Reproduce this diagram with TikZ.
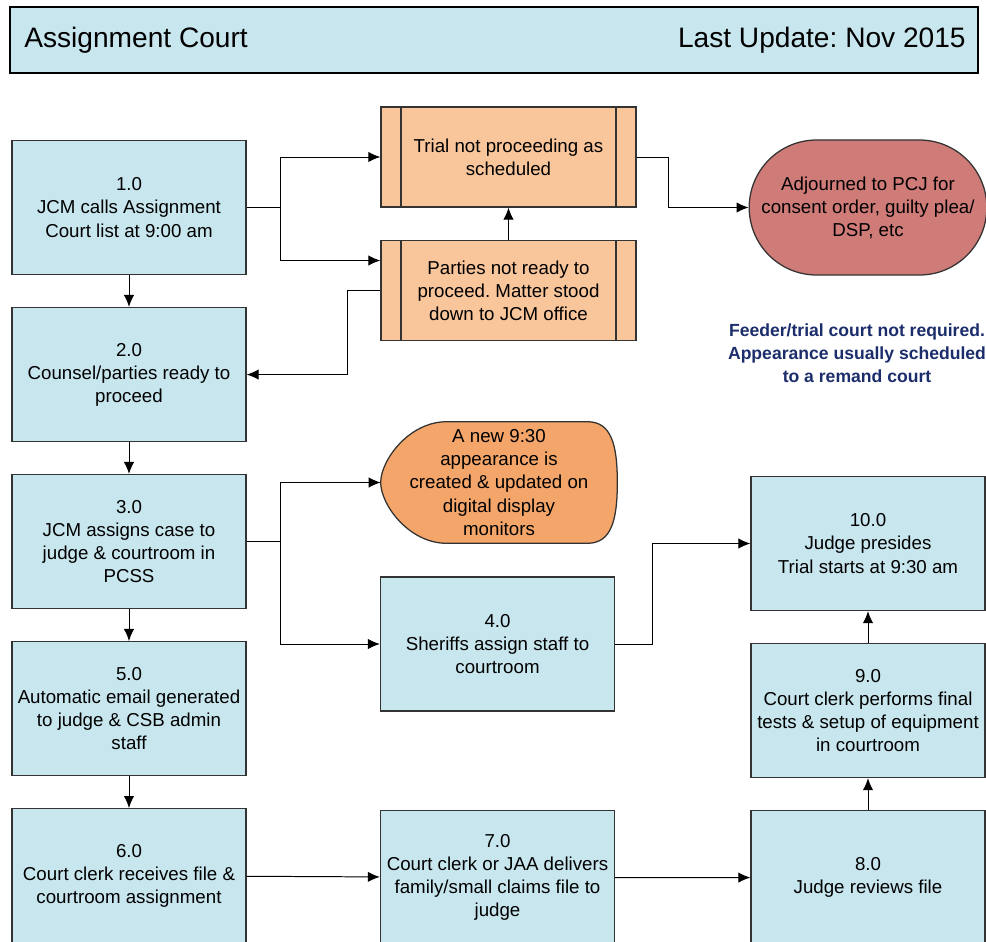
\documentclass[tikz,border=0pt]{standalone}
\usepackage{fontspec}
\setmainfont{Liberation Sans}
\usetikzlibrary{arrows.meta, shapes.misc, backgrounds}
\frenchspacing

\definecolor{boxblue}{RGB}{200,230,238}
\definecolor{peach}{RGB}{249,197,155}
\definecolor{dispor}{RGB}{244,166,106}
\definecolor{termred}{RGB}{207,123,120}
\definecolor{noteblue}{RGB}{27,45,107}
\definecolor{linegray}{RGB}{51,51,51}

\begin{document}
\begin{tikzpicture}[
  x=0.025cm, y=0.025cm,
  node distance=4.175cm,
  every node/.style={font=\fontsize{13.3}{16.4}\selectfont, align=center},
  stepbox/.style={rectangle, draw=linegray, line width=0.9pt, fill=boxblue, minimum width=5.85cm, minimum height=3.35cm},
  procbox/.style={rectangle, draw=linegray, line width=0.9pt, fill=peach, minimum width=6.375cm, minimum height=2.5cm,
    path picture={
      \draw[linegray, line width=0.9pt] ([xshift=0.5cm]path picture bounding box.north west) -- ([xshift=0.5cm]path picture bounding box.south west);
      \draw[linegray, line width=0.9pt] ([xshift=-0.5cm]path picture bounding box.north east) -- ([xshift=-0.5cm]path picture bounding box.south east);
    }},
  termbox/.style={rounded rectangle, draw=linegray, line width=0.9pt, fill=termred, minimum width=5.85cm, minimum height=3.375cm},
  dispbox/.style={minimum width=5.9cm, minimum height=3.025cm},
  note/.style={text=noteblue, font=\bfseries\fontsize{12.5}{16.4}\selectfont},
  arrow/.style={line width=0.7pt, -{Latex[length=3mm,width=2.6mm]}}
]
  \useasboundingbox (0,0) rectangle (986,-941);

  % header
  \node[draw=black, line width=1.2pt, fill=boxblue, minimum width=24.2cm, minimum height=1.65cm] (head) at (494,-40) {};
  \node[anchor=west, inner sep=0pt, font=\fontsize{20}{24}\selectfont] (title) at ([xshift=0.375cm]head.west) {Assignment Court};
  \node[anchor=east, inner sep=0pt, font=\fontsize{20}{24}\selectfont] (updated) at ([xshift=-0.325cm]head.east) {Last Update: Nov 2015};

  % left column
  \node[stepbox] (h1) at (129,-207.5) {1.0\\JCM calls Assignment\\Court list at 9:00 am};
  \node[stepbox] (h2) [below of=h1] {2.0\\Counsel/parties ready to\\proceed};
  \node[stepbox] (h3) [below of=h2] {3.0\\JCM assigns case to\\judge \& courtroom in\\PCSS};
  \node[stepbox] (h5) [below of=h3] {5.0\\Automatic email generated\\to judge \& CSB admin\\staff};
  \node[stepbox] (h6) [below of=h5] {6.0\\Court clerk receives file \&\\courtroom assignment};

  % middle column
  \node[procbox] (trial) at (508.5,-157) {Trial not proceeding as\\scheduled};
  \node[procbox] (parties) at (508.5,-290.5) {Parties not ready to\\proceed. Matter stood\\down to JCM office};
  \node[dispbox] (disp) at (499,-482.5) {A new 9:30\\appearance is\\created \& updated on\\digital display\\monitors};
  \node[stepbox] (h4) at (497.5,-644) {4.0\\Sheriffs assign staff to\\courtroom};
  \node[stepbox] (h7) at (497.5,-877.5) {7.0\\Court clerk or JAA delivers\\family/small claims file to\\judge};

  % right column
  \node[termbox] (adj) at (868,-207.5) {Adjourned to PCJ for\\consent order, guilty plea/\\DSP, etc};
  \node[note] (feeder) at (857,-353) {Feeder/trial court not required.\\Appearance usually scheduled\\to a remand court};
  \node[stepbox] (h10) at (868,-543.5) {10.0\\Judge presides\\Trial starts at 9:30 am};
  \node[stepbox] (h9) [below of=h10] {9.0\\Court clerk performs final\\tests \& setup of equipment\\in courtroom};
  \node[stepbox] (h8) [below of=h9] {8.0\\Judge reviews file};

  % display shape behind its text
  \begin{scope}[on background layer]
    \draw[draw=linegray, line width=0.9pt, fill=dispor]
      ([xshift=1.65cm]disp.north west) -- ([xshift=-0.75cm]disp.north east)
      .. controls ([xshift=-0.15cm]disp.north east) and ([yshift=0.95cm]disp.east) .. (disp.east)
      .. controls ([yshift=-0.95cm]disp.east) and ([xshift=-0.15cm]disp.south east) .. ([xshift=-0.75cm]disp.south east)
      -- ([xshift=1.65cm]disp.south west)
      .. controls ([xshift=0.7cm]disp.south west) and ([yshift=-0.55cm]disp.west) .. (disp.west)
      .. controls ([yshift=0.55cm]disp.west) and ([xshift=0.7cm]disp.north west) .. cycle;
  \end{scope}

  \foreach \a/\b in {h1/h2, h2/h3, h3/h5, h5/h6, h6/h7, h7/h8, h8/h9, h9/h10}
    \draw[arrow] (\a) -- (\b);
  \draw[arrow] (h1.east) -- ++(34,0) |- (trial.west);
  \draw[arrow] (h1.east) -- ++(34,0) |- ([yshift=0.75cm]parties.west);
  \draw[arrow] (parties.north) -- (trial.south);
  \draw[arrow] (parties.west) -- ++(-33,0) |- (h2.east);
  \draw[arrow] (trial.east) -- ++(32,0) |- (adj.west);
  \draw[arrow] (h3.east) -- ++(34,0) |- (disp.west);
  \draw[arrow] (h3.east) -- ++(34,0) |- (h4.west);
  \draw[arrow] (h4.east) -- ++(37,0) |- (h10.west);
\end{tikzpicture}
\end{document}
